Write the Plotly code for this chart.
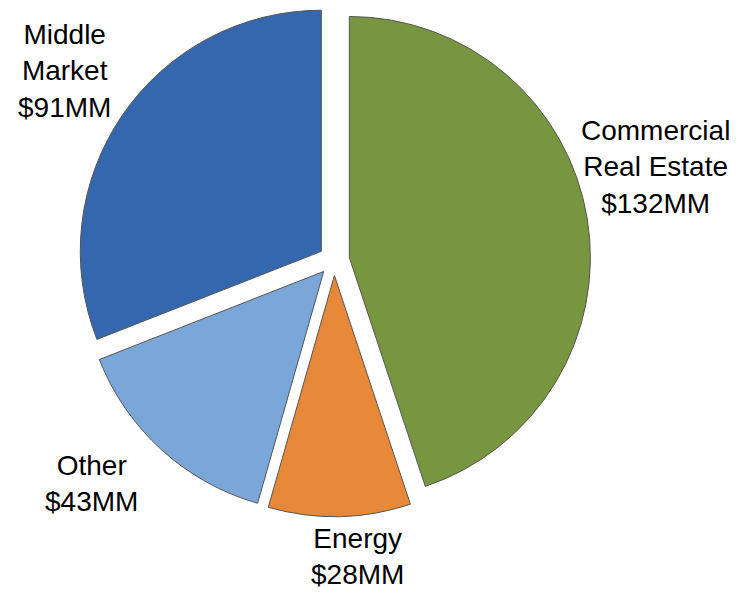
import plotly.graph_objects as go

# Loan portfolio segments, listed clockwise from 12 o'clock
segments = ["Commercial<br>Real Estate", "Energy", "Other", "Middle<br>Market"]
balances_mm = [132, 28, 43, 91]
slice_colors = ["#77963F", "#E8893A", "#7BA7D8", "#3567AE"]

# Label anchor points (paper fractions) for each segment's data label
label_x = [0.879, 0.4786, 0.122, 0.0858]
label_y = [0.718, 0.060, 0.184, 0.880]

fig = go.Figure(
    go.Pie(
        labels=segments,
        values=balances_mm,
        textinfo="none",
        hoverinfo="label+value",
        sort=False,
        direction="clockwise",
        rotation=0,
        pull=[0.064] * len(balances_mm),
        marker=dict(colors=slice_colors, line=dict(color="#555555", width=1)),
        domain=dict(x=[0.1040, 0.7917], y=[0.1275, 0.9941]),
        showlegend=False,
    )
)

for seg, val, lx, ly in zip(segments, balances_mm, label_x, label_y):
    fig.add_annotation(
        x=lx, y=ly, xref="paper", yref="paper",
        text=f"{seg}<br>${val}MM",
        showarrow=False,
        xanchor="center", yanchor="middle", align="center",
        font=dict(family="Liberation Sans, Arial, sans-serif", size=28, color="#000000"),
    )

fig.update_layout(
    width=746,
    height=592,
    margin=dict(l=0, r=0, t=0, b=0),
    paper_bgcolor="#FFFFFF",
    plot_bgcolor="#FFFFFF",
)

fig.write_html("out.html")
